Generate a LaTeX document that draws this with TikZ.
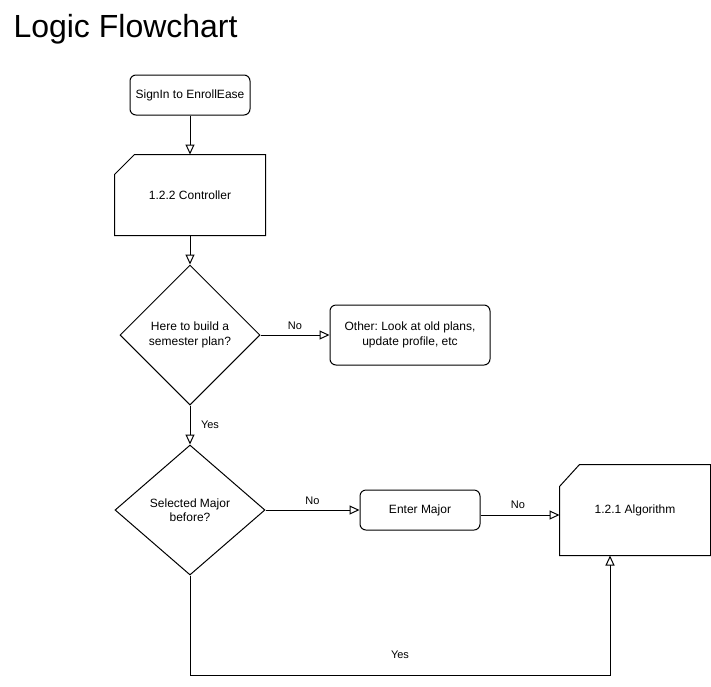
\documentclass[tikz,border=0pt]{standalone}
\usepackage{fontspec}
\setmainfont{Liberation Sans}
\frenchspacing
\usetikzlibrary{arrows.meta,shapes.geometric}

\begin{document}
\begin{tikzpicture}[x=1pt,y=-1pt,line width=1pt,
    font=\fontsize{12}{14.5}\selectfont,
    box/.style={draw,rounded corners=6pt,align=center,inner sep=0pt},
    cardbox/.style={draw=none,rectangle,align=center,inner sep=0pt},
    decision/.style={draw,diamond,align=center,inner sep=0pt},
    flow/.style={-{Triangle[open,length=10pt,width=9pt]}},
    lbl/.style={font=\fontsize{11}{13}\selectfont}]
        \useasboundingbox (0,0) rectangle (711,686);
        % 表題
        \node[anchor=base west,inner sep=0pt,font=\fontsize{32}{38}\selectfont] (title) at (13,37) {Logic Flowchart};
        % 定義
        \node[box,minimum width=120pt,minimum height=40pt] (signin) at (190,95) {SignIn to EnrollEase};
        \node[cardbox,minimum width=150pt,minimum height=80pt] (ctrl) at (190,195) {1.2.2 Controller};
        \node[decision,minimum width=140pt,minimum height=140pt] (build) at (190,335) {Here to build a\\semester plan?};
        \node[box,minimum width=160pt,minimum height=60pt] (other) at (410,335) {Other: Look at old plans,\\update profile, etc};
        \node[decision,minimum width=150pt,minimum height=130pt] (major) at (190,510) {Selected Major\\before?};
        \node[box,minimum width=120pt,minimum height=40pt] (enter) at (420,510) {Enter Major};
        \node[cardbox,minimum width=150pt,minimum height=90pt] (algo) at (635,510) {1.2.1 Algorithm};
        \coordinate (down) at (190,675);
        \coordinate (up) at (610,675);
        % カード
        \draw ([yshift=-20pt]ctrl.north west) -- ([xshift=20pt]ctrl.north west) -- (ctrl.north east)
            -- (ctrl.south east) -- (ctrl.south west) -- cycle;
        \draw ([yshift=-22pt]algo.north west) -- ([xshift=20pt]algo.north west) -- (algo.north east)
            -- (algo.south east) -- (algo.south west) -- cycle;
        % 矢印
        \draw[flow] (signin) -- (ctrl);
        \draw[flow] (ctrl) -- (build);
        \draw[flow] (build) -- (other) node[lbl,midway,yshift=9pt]{No};
        \draw[flow] (build) -- (major) node[lbl,midway,xshift=20pt]{Yes};
        \draw[flow] (major) -- (enter) node[lbl,midway,yshift=9pt]{No};
        \draw[flow] ([yshift=-5pt]enter.east) -- ([yshift=-5pt]algo.west) node[lbl,midway,yshift=10pt,xshift=-2pt]{No};
        \draw[flow] (major.south) -- (down) -- (up) node[lbl,midway,yshift=20pt]{Yes} -- (up |- algo.south);
\end{tikzpicture}
\end{document}
